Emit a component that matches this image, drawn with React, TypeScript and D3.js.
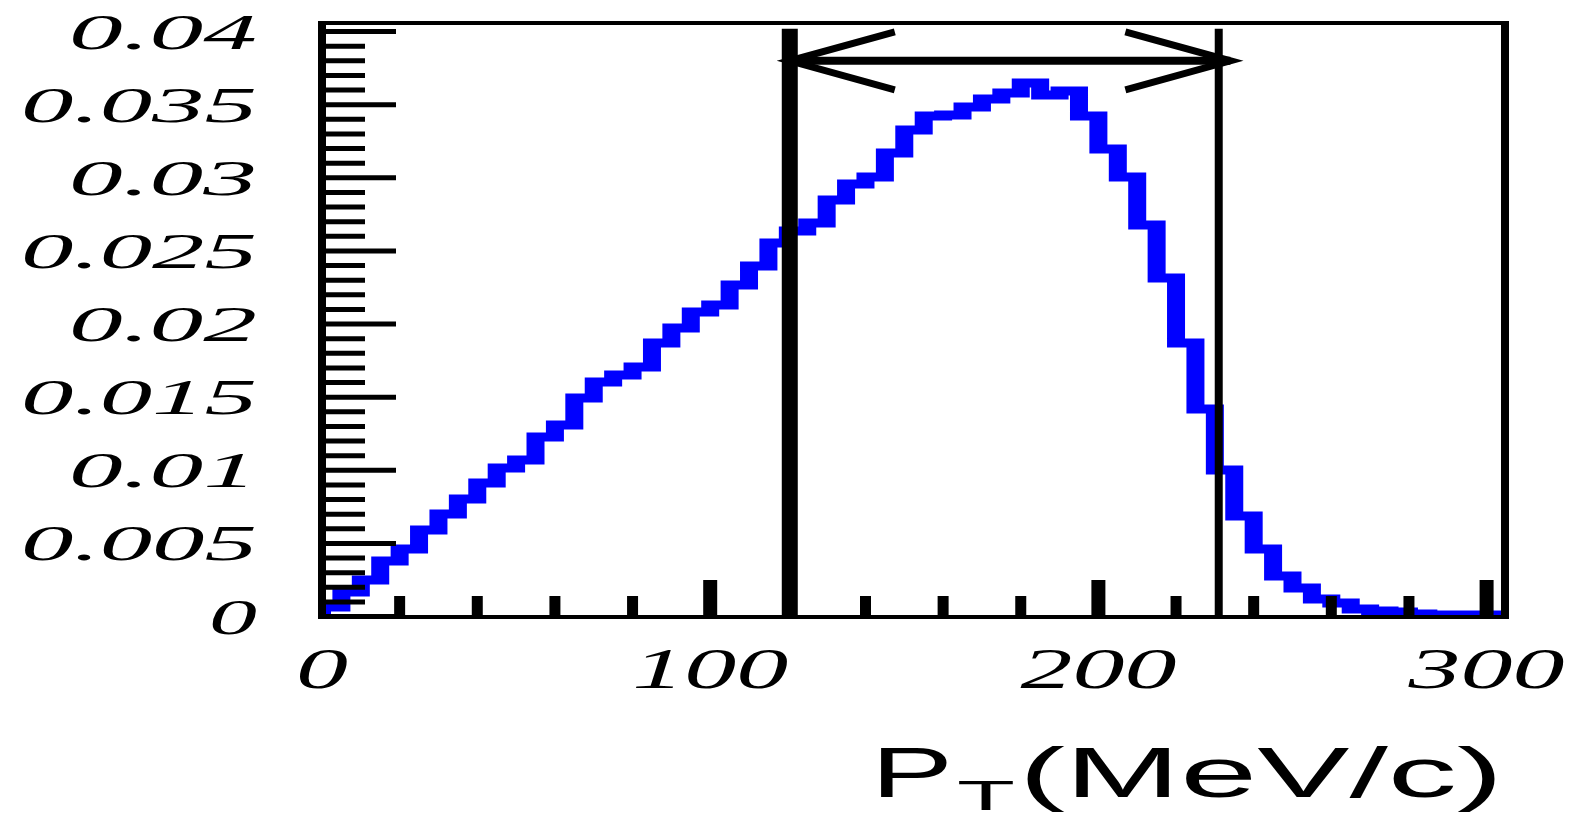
import React from 'react'
import * as d3 from 'd3'

// P_T histogram, 5 MeV/c bins starting at 0
const binWidth = 5
const binValues = [
  0.00065, 0.00168, 0.0025, 0.0038, 0.00462, 0.00592, 0.00701, 0.00804, 0.00913, 0.01016,
  0.0107, 0.01228, 0.0131, 0.01494, 0.01604, 0.01652, 0.01706, 0.0187, 0.01973, 0.02082,
  0.0213, 0.02267, 0.02397, 0.02554, 0.02636, 0.02691, 0.02848, 0.02958, 0.03006, 0.0317,
  0.03327, 0.03423, 0.0343, 0.03484, 0.03539, 0.0358, 0.03648, 0.03566, 0.03594, 0.03423,
  0.03197, 0.03006, 0.02677, 0.02315, 0.0187, 0.01419, 0.01002, 0.00687, 0.00462, 0.00277,
  0.00195, 0.0012, 0.00092, 0.00051, 0.00038, 0.00031, 0.00017, 0.0001, 0.0001, 0.0001,
  0.0001,
]

const xLabelValues = [0, 100, 200, 300]
const xLabels = ['0', '100', '200', '300']
const yLabelValues = [0, 0.005, 0.01, 0.015, 0.02, 0.025, 0.03, 0.035, 0.04]
const yLabels = ['0', '0.005', '0.01', '0.015', '0.02', '0.025', '0.03', '0.035', '0.04']

// selection window and its arrow
const cutValues = [120.5, 231]
const cutTop = 0.0402
const arrowFrom = 120.5
const arrowTo = 234
const arrowLevel = 0.038

const titleMain = 'P'
const titleSub = 'T'
const titleRest = '(MeV/c)'

const W = 1569
const H = 820
const SX = 2 // horizontal stretch for the blocky histogram stroke

const App: React.FC = () => {
  const x = d3.scaleLinear().domain([0, 305]).range([322, 1506])
  const y = d3.scaleLinear().domain([0, 0.0406]).range([616.5, 22.8])

  const pts: [number, number][] = [[0, 0]]
  binValues.forEach((v, i) => {
    pts.push([i * binWidth, v])
    pts.push([(i + 1) * binWidth, v])
  })
  const histLine = d3.line<[number, number]>()
    .x(d => x(d[0]) / SX)
    .y(d => y(d[1]))

  const yMinor = d3.range(0, 41)
  const xTicks = d3.range(20, 301, 20)

  const serif = '"Liberation Serif", "DejaVu Serif", serif'
  const sans = '"Liberation Sans", Arial, sans-serif'

  const headDx = 105
  const headDy = 29
  const ax1 = x(arrowFrom)
  const ax2 = x(arrowTo)
  const ay = y(arrowLevel)

  return (
    <svg width={W} height={H} style={{ position: 'absolute', left: 0, top: 0, background: '#fff' }}>
      <defs>
        <clipPath id="frameClip">
          <rect x={326} y={0} width={1183} height={619} />
        </clipPath>
      </defs>
      <rect width={W} height={H} fill="#fff" />

      {/* histogram */}
      <g clipPath="url(#frameClip)">
        <g transform={`scale(${SX},1)`}>
          <path d={histLine(pts) ?? ''} fill="none" stroke="#0000ff" strokeWidth={9} strokeLinejoin="miter" />
        </g>
      </g>

      {/* frame */}
      <line x1={322} x2={322} y1={21} y2={619} stroke="#000" strokeWidth={8} />
      <line x1={318} x2={1509} y1={23} y2={23} stroke="#000" strokeWidth={4} />
      <line x1={318} x2={1509} y1={617} y2={617} stroke="#000" strokeWidth={4} />
      <line x1={1505} x2={1505} y1={21} y2={619} stroke="#000" strokeWidth={8} />

      {/* y ticks */}
      {yMinor.map(i => (
        <line key={'yt' + i} x1={322} x2={i % 5 === 0 ? 396 : 365}
          y1={y(i / 1000)} y2={y(i / 1000)} stroke="#000" strokeWidth={5} />
      ))}

      {/* x ticks */}
      {xTicks.map(t => (
        <line key={'xt' + t} x1={x(t)} x2={x(t)} y1={617} y2={t % 100 === 0 ? 580 : 596}
          stroke="#000" strokeWidth={t % 100 === 0 ? 14 : 11} />
      ))}

      {/* cut lines */}
      {cutValues.map((c, i) => (
        <line key={'cut' + i} x1={x(c)} x2={x(c)} y1={y(cutTop)} y2={617}
          stroke="#000" strokeWidth={i === 0 ? 16 : 8} />
      ))}

      {/* double arrow */}
      <g stroke="#000" fill="none" strokeWidth={7}>
        <line x1={ax1} x2={ax2} y1={ay} y2={ay} strokeWidth={8} />
        <polyline points={`${ax1 + headDx},${ay - headDy} ${ax1},${ay} ${ax1 + headDx},${ay + headDy}`} />
        <polyline points={`${ax2 - headDx},${ay - headDy} ${ax2},${ay} ${ax2 - headDx},${ay + headDy}`} />
      </g>

      {/* y labels */}
      {yLabelValues.map((v, i) => {
        const s = yLabels[i]
        const digits = s.replace('.', '').length
        const len = digits * 48 + (s.includes('.') ? 44 : 0)
        return (
          <text key={'yl' + i} x={257 - len} y={y(v) + 17} fontFamily={serif} fontStyle="italic"
            fontSize={50} textLength={len} lengthAdjust="spacingAndGlyphs" fill="#000">
            {s}
          </text>
        )
      })}

      {/* x labels */}
      {xLabelValues.map((v, i) => {
        const s = xLabels[i]
        const len = s.length * 52
        return (
          <text key={'xl' + i} x={x(v) - len / 2} y={688} fontFamily={serif} fontStyle="italic"
            fontSize={58} textLength={len} lengthAdjust="spacingAndGlyphs" fill="#000">
            {s}
          </text>
        )
      })}

      {/* axis title */}
      <g fontFamily={sans} fill="#000">
        <text x={871} y={797} fontSize={70} textLength={82} lengthAdjust="spacingAndGlyphs">{titleMain}</text>
        <text x={957} y={810} fontSize={43} textLength={58} lengthAdjust="spacingAndGlyphs">{titleSub}</text>
        <text x={1019} y={797} fontSize={70} textLength={484} lengthAdjust="spacingAndGlyphs">{titleRest}</text>
      </g>
    </svg>
  )
}

export default App
